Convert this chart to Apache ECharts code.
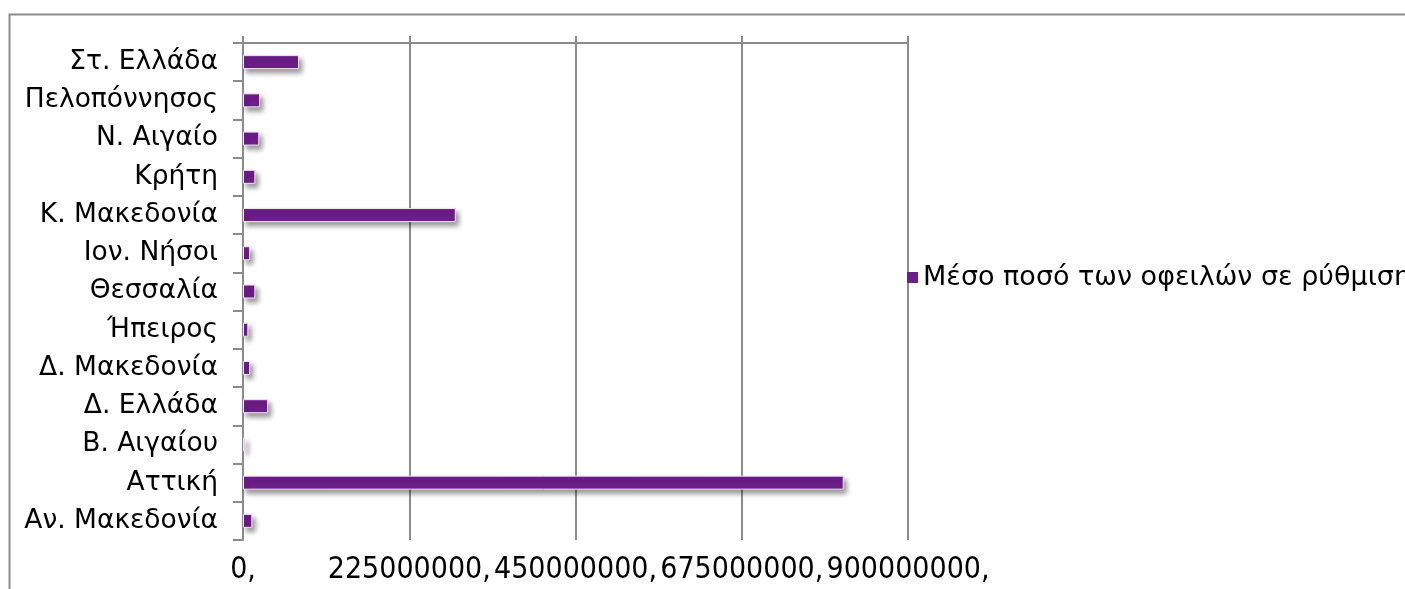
<!DOCTYPE html>
<html>
<head>
<meta charset="utf-8">
<script src="https://cdn.jsdelivr.net/npm/echarts@6/dist/echarts.min.js"></script>
<style>
html,body{margin:0;padding:0;background:#fff;}
#chart{width:1405px;height:589px;}
</style>
</head>
<body>
<div id="chart"></div>
<script>
var categories = ['Αν. Μακεδονία','Αττική','Β. Αιγαίου','Δ. Ελλάδα','Δ. Μακεδονία','Ήπειρος','Θεσσαλία','Ιον. Νήσοι','Κ. Μακεδονία','Κρήτη','Ν. Αιγαίο','Πελοπόννησος','Στ. Ελλάδα'];
var seriesName = 'Μέσο ποσό των οφειλών σε ρύθμιση';
var values = [12600000, 813000000, 3000000, 34000000, 9500000, 7200000, 16700000, 9500000, 288000000, 16700000, 22000000, 23000000, 75800000];
var xMax = 900000000;
var xInterval = 225000000;

var chart = echarts.init(document.getElementById('chart'));
var gridColor = '#8c8c8c';
chart.setOption({
  animation: false,
  backgroundColor: '#fff',
  graphic: [{
    type: 'rect', left: 7, top: 12, shape: {width: 1500, height: 700},
    style: {fill: 'none', stroke: gridColor, lineWidth: 2}, silent: true
  }],
  grid: {left: 243, right: 497, top: 43, bottom: 49, containLabel: false},
  legend: {
    data: [seriesName], left: 907, top: 264, padding: 0, icon: 'rect', itemWidth: 11, itemHeight: 11,
    itemStyle: {borderWidth: 0, shadowBlur: 0, shadowOffsetX: 0, shadowOffsetY: 0},
    textStyle: {fontFamily: 'DejaVu Sans', fontSize: 27, color: '#000'}
  },
  xAxis: [{
    type: 'value', min: 0, max: xMax, interval: xInterval, position: 'bottom',
    axisLine: {show: false}, axisTick: {show: false},
    splitLine: {show: true, lineStyle: {color: gridColor, width: 2}},
    axisLabel: {
      margin: 15, color: '#000', fontFamily: 'DejaVu Sans Condensed, DejaVu Sans', fontSize: 30,
      formatter: function (v) { return v + ','; }
    }
  }, {
    type: 'value', min: 0, max: xMax, interval: xInterval, position: 'top',
    axisLine: {show: true, lineStyle: {color: gridColor, width: 2}},
    axisTick: {show: true, length: 7, lineStyle: {color: gridColor, width: 2}},
    axisLabel: {show: false}, splitLine: {show: false}
  }],
  yAxis: {
    type: 'category', data: categories,
    axisLine: {show: true, lineStyle: {color: gridColor, width: 2}},
    axisTick: {show: true, length: 10, lineStyle: {color: gridColor, width: 2}},
    axisLabel: {margin: 25, color: '#000', fontFamily: 'DejaVu Sans', fontSize: 26.5}
  },
  series: [{
    name: seriesName, type: 'bar', data: values, barWidth: 14, xAxisIndex: 0,
    itemStyle: {
      color: '#6e1e8a', borderColor: '#f3e6f3', borderWidth: 1,
      shadowColor: 'rgba(0,0,0,0.4)', shadowBlur: 5, shadowOffsetX: 3, shadowOffsetY: 4
    }
  }]
});
</script>
</body>
</html>
